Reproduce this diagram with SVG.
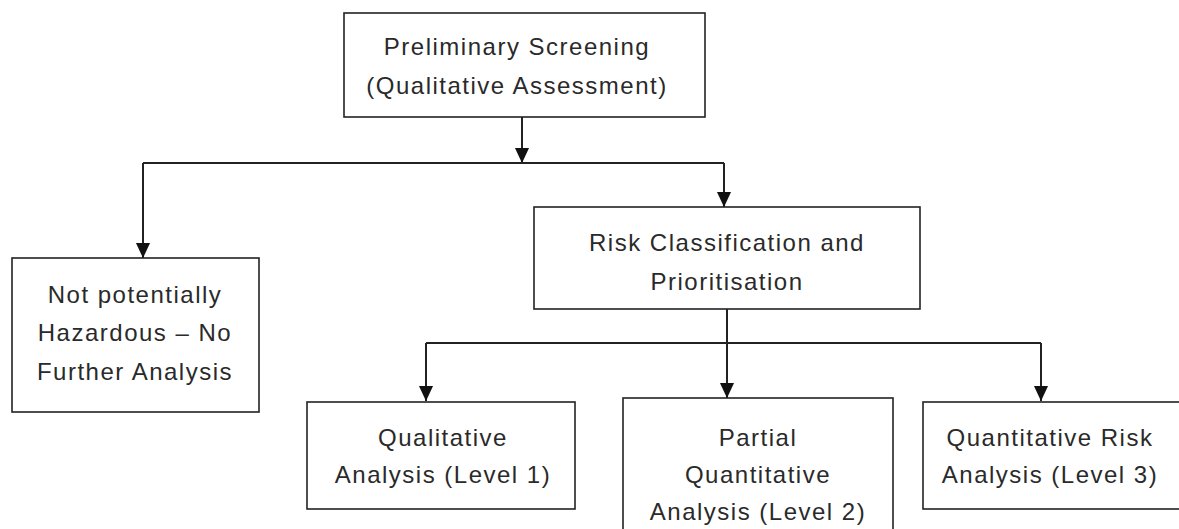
<svg xmlns="http://www.w3.org/2000/svg" width="1179" height="529" viewBox="0 0 1179 529">
<style>
.box{fill:#fff;stroke:#222;stroke-width:1.6}
.ln{fill:none;stroke:#222;stroke-width:2}
text{font-family:"Liberation Sans",Arial,sans-serif;font-size:24px;letter-spacing:1.5px;fill:#2a2a2a;text-anchor:middle}
</style>
<defs>
<marker id="arr" markerWidth="15" markerHeight="16" refX="16" refY="7.5" orient="auto" markerUnits="userSpaceOnUse" viewBox="0 0 16 15">
<path d="M0,0 L16,7.5 L0,15 Z" fill="#111"/>
</marker>
</defs>
<rect width="1179" height="529" fill="#fff"/>
<g id="connectors">
<path class="ln" d="M522,117 V163" marker-end="url(#arr)"/>
<path class="ln" d="M143,163 H724"/>
<path class="ln" d="M143,163 V258" marker-end="url(#arr)"/>
<path class="ln" d="M724,163 V207" marker-end="url(#arr)"/>
<path class="ln" d="M727,309 V398" marker-end="url(#arr)"/>
<path class="ln" d="M426,343 H1041"/>
<path class="ln" d="M426,343 V401" marker-end="url(#arr)"/>
<path class="ln" d="M1041,343 V401" marker-end="url(#arr)"/>
</g>
<g id="n1">
<rect class="box" x="344" y="13" width="361" height="104"/>
<text x="517" y="55">Preliminary Screening</text>
<text x="517" y="94">(Qualitative Assessment)</text>
</g>
<g id="n2">
<rect class="box" x="12" y="258" width="247" height="154"/>
<text x="135" y="303">Not potentially</text>
<text x="135" y="341">Hazardous – No</text>
<text x="135" y="380">Further Analysis</text>
</g>
<g id="n3">
<rect class="box" x="534" y="207" width="386" height="102"/>
<text x="727" y="251">Risk Classification and</text>
<text x="727" y="290">Prioritisation</text>
</g>
<g id="n4">
<rect class="box" x="307" y="402" width="268" height="107"/>
<text x="443" y="446">Qualitative</text>
<text x="443" y="483">Analysis (Level 1)</text>
</g>
<g id="n5">
<rect class="box" x="623" y="398" width="270" height="140"/>
<text x="758" y="446">Partial</text>
<text x="758" y="483">Quantitative</text>
<text x="758" y="520">Analysis (Level 2)</text>
</g>
<g id="n6">
<rect class="box" x="923" y="402" width="270" height="107"/>
<text x="1050" y="446">Quantitative Risk</text>
<text x="1050" y="483">Analysis (Level 3)</text>
</g>
</svg>
